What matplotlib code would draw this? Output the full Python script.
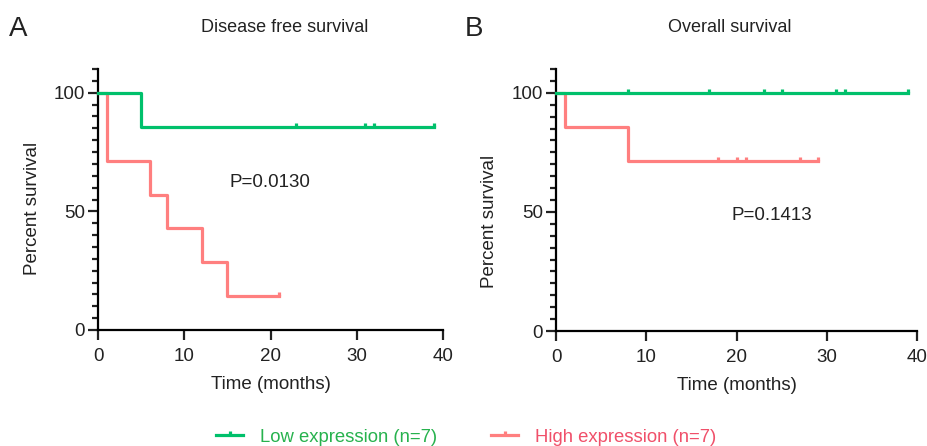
import matplotlib.pyplot as plt
from matplotlib.path import Path
from matplotlib.lines import Line2D

plt.rcParams['font.family'] = ['Liberation Sans', 'DejaVu Sans']

# Disease free survival (panel A)
dfs_low_t = [0, 5, 39]
dfs_low_s = [100, 85.7, 85.7]
dfs_low_cens_t = [23, 31, 32, 39]
dfs_low_cens_s = [85.7, 85.7, 85.7, 85.7]
dfs_high_t = [0, 1, 6, 8, 12, 15, 21]
dfs_high_s = [100, 71.4, 57.1, 42.9, 28.6, 14.3, 14.3]
dfs_high_cens_t = [21]
dfs_high_cens_s = [14.3]

# Overall survival (panel B)
os_low_t = [0, 39]
os_low_s = [100, 100]
os_low_cens_t = [8, 17, 23, 25, 31, 32, 39]
os_low_cens_s = [100] * 7
os_high_t = [0, 1, 8, 29]
os_high_s = [100, 85.7, 71.4, 71.4]
os_high_cens_t = [18, 20, 21, 27, 29]
os_high_cens_s = [71.4] * 5

titles = ["Disease free survival", "Overall survival"]
pvals = ["P=0.0130", "P=0.1413"]
legend_labels = ["Low expression (n=7)", "High expression (n=7)"]

GREEN = "#00c06b"
RED = "#ff7f7f"
GREEN_TXT = "#27b24e"
RED_TXT = "#f0506a"
DARK = "#222222"

# upward censor tick
cens_marker = Path([(0, 0), (0, 1)])

fig = plt.figure(figsize=(9.27, 4.46), dpi=100)
ax_a = fig.add_axes([98/927, 1-330/446, (443-98)/927, (330-69)/446])
ax_b = fig.add_axes([556/927, 1-331/446, (917-556)/927, (331-69)/446])

panels = [
    (ax_a, dfs_low_t, dfs_low_s, dfs_low_cens_t, dfs_low_cens_s,
     dfs_high_t, dfs_high_s, dfs_high_cens_t, dfs_high_cens_s, (19.9, 62), (-0.165, 0.467)),
    (ax_b, os_low_t, os_low_s, os_low_cens_t, os_low_cens_s,
     os_high_t, os_high_s, os_high_cens_t, os_high_cens_s, (23.9, 48.3), (-0.161, 0.42)),
]

for i, (ax, lt, ls, lct, lcs, ht, hs, hct, hcs, ppos, ylab_xy) in enumerate(panels):
    ax.step(ht, hs, where='post', color=RED, lw=2.3, zorder=3, clip_on=False)
    ax.plot(hct, hcs, ls='none', marker=cens_marker, ms=5.5, mew=2.3, color=RED, zorder=3, clip_on=False)
    ax.step(lt, ls, where='post', color=GREEN, lw=2.3, zorder=4, clip_on=False)
    ax.plot(lct, lcs, ls='none', marker=cens_marker, ms=5.5, mew=2.3, color=GREEN, zorder=4, clip_on=False)

    ax.set_xlim(0, 40)
    ax.set_ylim(0, 110)
    ax.spines['top'].set_visible(False)
    ax.spines['right'].set_visible(False)
    ax.spines['left'].set_linewidth(1.6)
    ax.spines['bottom'].set_linewidth(1.6)
    ax.set_xticks([0, 10, 20, 30, 40])
    ax.set_yticks([0, 50, 100])
    ax.set_yticks(range(0, 111, 5), minor=True)
    ax.tick_params(axis='both', which='major', length=7.5, width=1.6, labelsize=13.5, colors=DARK, pad=2)
    ax.tick_params(axis='x', which='major', pad=5.5)
    ax.tick_params(axis='y', which='minor', length=4, width=1.6, color=DARK)
    ax.set_xlabel("Time (months)", fontsize=13.5, color=DARK, labelpad=8)
    ax.set_ylabel("Percent survival", fontsize=13.5, color=DARK)
    ax.yaxis.set_label_coords(*ylab_xy)
    ax.text(ppos[0], ppos[1], pvals[i], fontsize=13.5, ha='center', va='center', color=DARK)

fig.text(285/927, 1-27/446, titles[0], fontsize=13, ha='center', va='center', color=DARK)
fig.text(730/927, 1-27/446, titles[1], fontsize=13, ha='center', va='center', color=DARK)
fig.text(9/927, 1-29/446, "A", fontsize=20, ha='left', va='center', color=DARK)
fig.text(465/927, 1-29/446, "B", fontsize=20, ha='left', va='center', color=DARK)

handles = [
    Line2D([0], [0], color=GREEN, lw=2.3, marker=Path([(0, 0), (0, 0.6)]), ms=6, mew=2.3),
    Line2D([0], [0], color=RED, lw=2.3, marker=Path([(0, 0), (0, 0.6)]), ms=6, mew=2.3),
]
leg = fig.legend(handles, legend_labels, loc='center', bbox_to_anchor=(466/927, 1-437/446),
                 ncol=2, frameon=False, fontsize=13.3, handlelength=1.5, columnspacing=2.9,
                 handletextpad=0.9)
for t, c in zip(leg.get_texts(), [GREEN_TXT, RED_TXT]):
    t.set_color(c)

fig.savefig("out.png", dpi=100)
